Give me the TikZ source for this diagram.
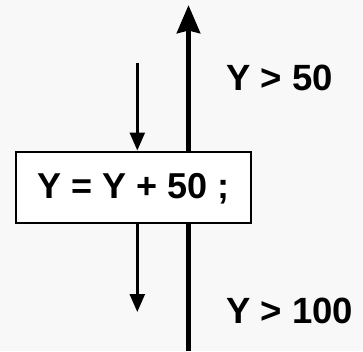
\documentclass[tikz,border=0pt]{standalone}
\usepackage{fontspec}
\setmainfont{Liberation Sans}
\usepackage{xcolor}
\usetikzlibrary{positioning,calc,arrows.meta}
\definecolor{bgcol}{HTML}{F8F8F8}

\begin{document}
\begin{tikzpicture}[
    x=1pt, y=-1pt,
    stmt/.style={draw, fill=white, line width=2pt, font=\fontsize{36}{40}\selectfont\bfseries, align=center, minimum width=235pt, minimum height=71pt, inner sep=0pt, text height=26pt, text depth=4pt},
    cond/.style={font=\fontsize{36.5}{40}\selectfont\bfseries, anchor=base west, inner sep=0pt},
    flow/.style={-{Triangle[length=18pt,width=15pt]}, line width=2.5pt},
    loopback/.style={-{Stealth[length=28pt,width=23pt,inset=2.5pt]}, line width=5.5pt}
]
\useasboundingbox (0,0) rectangle (363,351);
\fill[bgcol] (0,0) rectangle (363,351);

% ---- back edge (behind the statement) ----
\coordinate (lbBot) at (188.5,351);
\coordinate (lbTop) at (188.5,5);
\draw[loopback] (lbBot) -- (lbTop);

% ---- statement ----
\node[stmt] (st) at (133.5,187) {Y = Y + 50 ;};

% ---- flow in / out ----
\coordinate (inTop) at (137.3,63);
\coordinate (outBot) at (137.3,312);
\draw[flow] (inTop) -- (inTop |- st.north);
\draw[flow] (inTop |- st.south) -- (outBot);

% ---- conditions ----
\node[cond] (cIn) at (226,90) {Y > 50};
\node[cond] (cOut) at (226,323) {Y > 100};
\end{tikzpicture}
\end{document}
